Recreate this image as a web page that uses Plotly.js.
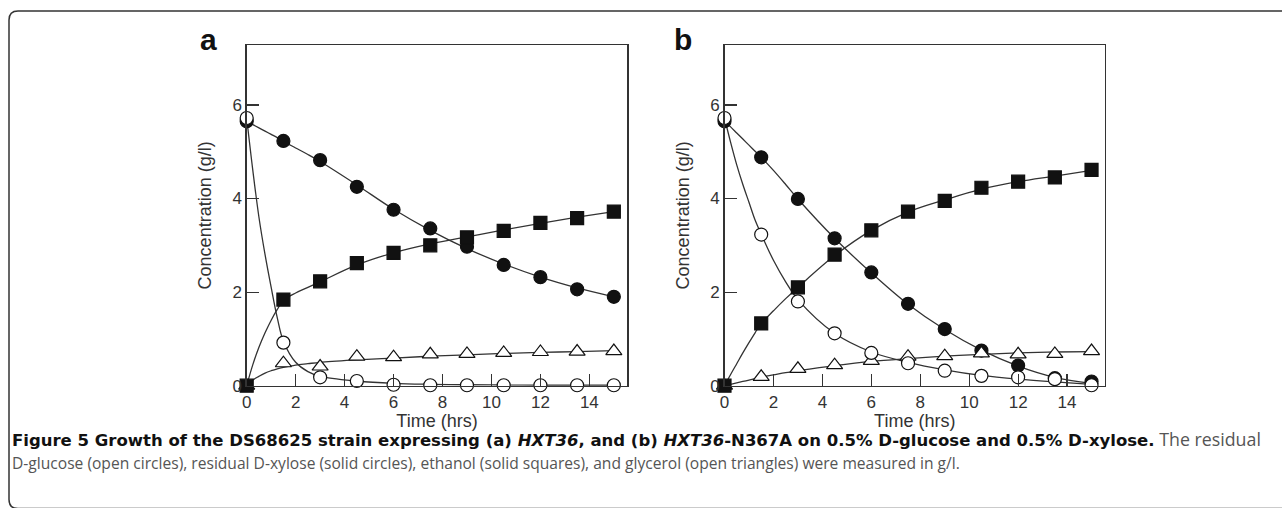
<!DOCTYPE html>
<html><head><meta charset="utf-8">
<script src="https://cdn.plot.ly/plotly-3.0.1.min.js"></script>
<style>html,body{margin:0;padding:0;background:#fff;} #chart{width:1282px;height:508px;}</style>
</head><body><div id="chart"></div>
<script>
// ---- data (g/l) ----
const sampleTime = [0, 1.5, 3, 4.5, 6, 7.5, 9, 10.5, 12, 13.5, 15];
const curveTime  = [0, 0.25, 0.5, 0.75, 1, 1.25, 1.5, 2, 2.5, 3, 4.5, 6, 7.5, 9, 10.5, 12, 13.5, 15];

// panel a: HXT36
const glucoseA  = [5.72, 0.92, 0.18, 0.10, 0.02, 0.01, 0.01, 0.01, 0.01, 0.01, 0.01];
const xyloseA   = [5.65, 5.23, 4.82, 4.25, 3.76, 3.36, 2.97, 2.58, 2.32, 2.06, 1.90];
const ethanolA  = [0, 1.84, 2.23, 2.62, 2.84, 3.00, 3.17, 3.31, 3.48, 3.58, 3.72];
const glycerolA = [0, 0.48, 0.41, 0.62, 0.61, 0.67, 0.68, 0.70, 0.72, 0.73, 0.74];
const glucoseFitA  = [5.72, 4.6, 3.6, 2.8, 2.1, 1.45, 0.95, 0.5, 0.3, 0.2, 0.1, 0.05, 0.03, 0.02, 0.015, 0.01, 0.01, 0.01];
const xyloseFitA   = [5.65, 5.58, 5.51, 5.44, 5.37, 5.3, 5.22, 5.08, 4.94, 4.79, 4.29, 3.77, 3.32, 2.93, 2.6, 2.32, 2.09, 1.9];
const ethanolFitA  = [0, 0.45, 0.82, 1.13, 1.4, 1.63, 1.82, 1.98, 2.1, 2.22, 2.58, 2.84, 3.03, 3.18, 3.33, 3.47, 3.6, 3.72];
const glycerolFitA = [0, 0.12, 0.2, 0.27, 0.32, 0.36, 0.39, 0.44, 0.47, 0.5, 0.55, 0.59, 0.63, 0.66, 0.69, 0.71, 0.73, 0.75];

// panel b: HXT36-N367A
const glucoseB  = [5.72, 3.23, 1.80, 1.12, 0.70, 0.48, 0.32, 0.21, 0.18, 0.14, 0.01];
const xyloseB   = [5.65, 4.88, 3.99, 3.15, 2.42, 1.75, 1.21, 0.75, 0.43, 0.16, 0.09];
const ethanolB  = [0, 1.33, 2.10, 2.80, 3.32, 3.72, 3.95, 4.23, 4.36, 4.45, 4.61];
const glycerolB = [0, 0.19, 0.36, 0.44, 0.53, 0.62, 0.63, 0.69, 0.67, 0.68, 0.74];
const glucoseFitB  = [5.72, 5.2, 4.72, 4.3, 3.92, 3.54, 3.24, 2.68, 2.22, 1.84, 1.12, 0.72, 0.5, 0.34, 0.22, 0.14, 0.08, 0.03];
const xyloseFitB   = [5.65, 5.53, 5.4, 5.27, 5.14, 5.01, 4.88, 4.6, 4.3, 3.99, 3.15, 2.41, 1.74, 1.2, 0.76, 0.42, 0.18, 0.05];
const ethanolFitB  = [0, 0.24, 0.47, 0.7, 0.92, 1.13, 1.33, 1.6, 1.86, 2.1, 2.78, 3.32, 3.71, 3.97, 4.2, 4.36, 4.48, 4.6];
const glycerolFitB = [0, 0.03, 0.06, 0.09, 0.12, 0.15, 0.18, 0.23, 0.28, 0.32, 0.43, 0.52, 0.58, 0.63, 0.67, 0.7, 0.72, 0.73];

const xTicks = [0, 2, 4, 6, 8, 10, 12, 14];
const yTicks = [0, 2, 4, 6];
const panelLabels = ['a', 'b'];
const xTitle = 'Time (hrs)';
const yTitle = 'Concentration (g/l)';
const captionBold = 'Figure 5 Growth of the DS68625 strain expressing (a) <i>HXT36</i>, and (b) <i>HXT36</i>-N367A on 0.5% D-glucose and 0.5% D-xylose.';
const captionRest1 = ' The residual';
const captionLine2 = 'D-glucose (open circles), residual D-xylose (solid circles), ethanol (solid squares), and glycerol (open triangles) were measured in g/l.';

// ---- build ----
const W = 1282, H = 508;
const LINE = '#333';
const fitLine = (y, xa, ya) => ({x: curveTime, y, xaxis: xa, yaxis: ya, type: 'scatter', mode: 'lines',
  line: {color: LINE, width: 1.3, shape: 'spline', smoothing: 1}, hoverinfo: 'skip', showlegend: false, cliponaxis: false});
const pts = (y, xa, ya, symbol, fill, name) => ({x: sampleTime, y, xaxis: xa, yaxis: ya, type: 'scatter', mode: 'markers', name,
  marker: {symbol, size: symbol === 'triangle-up' ? 14 : 13, color: fill, line: {color: '#111', width: 1.2}},
  showlegend: false, cliponaxis: false});

function panel(xa, ya, glu, xyl, eth, gly, gluF, xylF, ethF, glyF) {
  return [
    fitLine(xylF, xa, ya), fitLine(glyF, xa, ya), fitLine(ethF, xa, ya), fitLine(gluF, xa, ya),
    pts(xyl, xa, ya, 'circle', '#111', 'D-xylose'),
    pts(gly, xa, ya, 'triangle-up', '#fff', 'glycerol'),
    pts(eth, xa, ya, 'square', '#111', 'ethanol'),
    pts(glu, xa, ya, 'circle', '#fff', 'D-glucose'),
  ];
}
const data = [
  ...panel('x', 'y', glucoseA, xyloseA, ethanolA, glycerolA, glucoseFitA, xyloseFitA, ethanolFitA, glycerolFitA),
  ...panel('x2', 'y2', glucoseB, xyloseB, ethanolB, glycerolB, glucoseFitB, xyloseFitB, ethanolFitB, glycerolFitB),
];

const px = v => v / W, py = v => (H - v) / H;
const tickFont = {family: 'Liberation Sans, Arial, sans-serif', size: 17, color: '#333'};
const titleFont = {family: 'Liberation Sans, Arial, sans-serif', size: 18, color: '#333'};
function xAxis(d) {
  return {domain: d, range: [0, 15.55], tickvals: xTicks, ticks: 'inside', ticklen: 12, tickwidth: 1.2, tickcolor: LINE,
    showline: true, mirror: true, linecolor: LINE, linewidth: 1.4, showgrid: false, zeroline: false, fixedrange: true,
    tickfont: tickFont, title: {text: xTitle, font: titleFont, standoff: 1}, automargin: false};
}
function yAxis(anchor) {
  return {domain: [py(385.7), py(45)], range: [0, 7.28], tickvals: yTicks, ticks: 'inside', ticklen: 12, tickwidth: 1.2, tickcolor: LINE,
    showline: true, mirror: true, linecolor: LINE, linewidth: 1.4, showgrid: false, zeroline: false, fixedrange: true, anchor,
    tickfont: tickFont, title: {text: yTitle, font: titleFont, standoff: 16}, automargin: false};
}
const xa1 = xAxis([px(246.7), px(627.3)]); xa1.anchor = 'y';
const xa2 = xAxis([px(724.5), px(1105)]); xa2.anchor = 'y2';

const r = 9, bl = 9, bt = 11, bb = 508.5;
const borderPath = `M ${px(W + 10)},${py(bt)} L ${px(bl + r)},${py(bt)} Q ${px(bl)},${py(bt)} ${px(bl)},${py(bt + r)} ` +
  `L ${px(bl)},${py(bb - r)} Q ${px(bl)},${py(bb)} ${px(bl + r)},${py(bb)} L ${px(W + 10)},${py(bb)}`;

const layout = {
  width: W, height: H, margin: {l: 0, r: 0, t: 0, b: 0}, paper_bgcolor: '#fff', plot_bgcolor: '#fff',
  showlegend: false,
  xaxis: xa1, yaxis: yAxis('x'), xaxis2: xa2, yaxis2: yAxis('x2'),
  shapes: [{type: 'path', xref: 'paper', yref: 'paper', path: borderPath, line: {color: '#333', width: 1.5}}],
  annotations: [
    {text: '<b>' + panelLabels[0] + '</b>', x: px(208), y: py(40), xref: 'paper', yref: 'paper', showarrow: false,
      font: {family: 'Liberation Sans, Arial, sans-serif', size: 30, color: '#111'}, xanchor: 'center', yanchor: 'middle'},
    {text: '<b>' + panelLabels[1] + '</b>', x: px(683), y: py(40), xref: 'paper', yref: 'paper', showarrow: false,
      font: {family: 'Liberation Sans, Arial, sans-serif', size: 30, color: '#111'}, xanchor: 'center', yanchor: 'middle'},
    {text: '<b>' + captionBold + '</b><span style="font-family:\'Open Sans\',sans-serif;font-size:17.8px;color:#555">' + captionRest1 + '</span>',
      x: px(10), y: py(439), xref: 'paper', yref: 'paper', showarrow: false, xanchor: 'left', yanchor: 'middle',
      font: {family: 'DejaVu Sans, sans-serif', size: 16.5, color: '#111'}},
    {text: captionLine2, x: px(10), y: py(463), xref: 'paper', yref: 'paper', showarrow: false, xanchor: 'left', yanchor: 'middle',
      font: {family: 'Open Sans, sans-serif', size: 15.6, color: '#555'}},
  ],
};
Plotly.newPlot('chart', data, layout, {displayModeBar: false, staticPlot: true});
</script></body></html>
